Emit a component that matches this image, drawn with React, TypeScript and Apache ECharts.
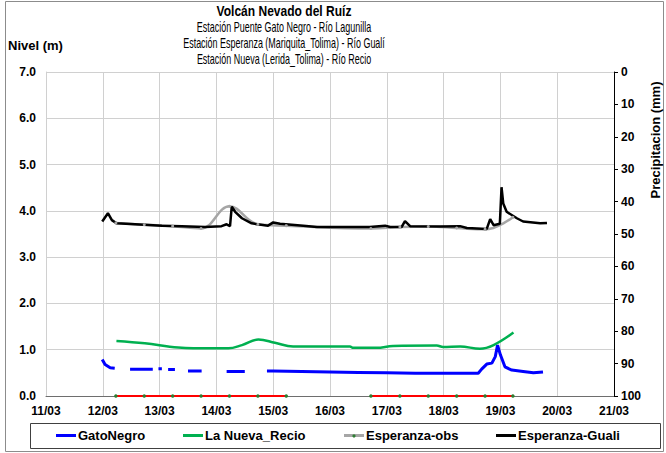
import React, { useEffect, useRef } from "react";
import * as echarts from "echarts";

// ---- Data (days of March; levels in m) ----
const xTicks = [11, 12, 13, 14, 15, 16, 17, 18, 19, 20, 21];

const gatoDays = [11.99, 12.04, 12.13, 12.21, 12.3, 12.48, 12.88, 12.93, 12.98, 13.04, 13.1, 13.15, 13.27, 13.4, 13.5, 13.74, 13.9, 14.18, 14.5, 14.7, 14.89, 15.0, 15.5, 16.0, 16.5, 17.0, 17.5, 18.0, 18.61, 18.67, 18.76, 18.85, 18.91, 18.95, 19.0, 19.08, 19.2, 19.4, 19.58, 19.75];
const gatoLevels = [0.79, 0.68, 0.61, 0.6, null, 0.58, 0.58, null, 0.59, 0.59, null, 0.57, 0.57, null, 0.54, 0.54, null, 0.53, 0.53, null, 0.54, 0.54, 0.53, 0.52, 0.51, 0.5, 0.49, 0.49, 0.49, 0.58, 0.69, 0.71, 0.85, 1.1, 0.89, 0.63, 0.56, 0.53, 0.5, 0.52];

const recioDays = [12.24, 12.74, 13.33, 13.92, 14.21, 14.45, 14.74, 15.03, 15.35, 16.35, 16.41, 16.82, 17.11, 17.88, 17.99, 18.29, 18.64, 18.88, 19.23];
const recioLevels = [1.19, 1.14, 1.05, 1.03, 1.03, 1.1, 1.22, 1.15, 1.07, 1.07, 1.04, 1.04, 1.08, 1.09, 1.06, 1.07, 1.02, 1.1, 1.37];

const obsDays = [12.23, 12.73, 13.23, 13.73, 14.23, 14.73, 15.23, 16.72, 17.23, 17.73, 18.23, 18.73, 19.22];
const obsLevels = [3.74, 3.7, 3.67, 3.62, 4.1, 3.71, 3.68, 3.62, 3.65, 3.66, 3.63, 3.6, 3.86];

const gualiDays = [11.99, 12.09, 12.16, 12.24, 12.57, 13.04, 13.39, 13.8, 14.09, 14.18, 14.24, 14.27, 14.33, 14.45, 14.62, 14.91, 15.0, 15.12, 15.53, 15.77, 16.7, 16.97, 17.06, 17.26, 17.32, 17.41, 17.94, 18.29, 18.41, 18.76, 18.82, 18.88, 18.99, 19.02, 19.05, 19.11, 19.29, 19.4, 19.7, 19.82];
const gualiLevels = [3.77, 3.95, 3.8, 3.73, 3.71, 3.68, 3.67, 3.65, 3.67, 3.71, 3.67, 4.09, 3.98, 3.84, 3.73, 3.68, 3.75, 3.72, 3.68, 3.65, 3.65, 3.68, 3.65, 3.65, 3.78, 3.67, 3.66, 3.67, 3.63, 3.61, 3.82, 3.69, 3.72, 4.51, 4.16, 3.98, 3.84, 3.77, 3.73, 3.74];

const precipDays = [12.23, 12.73, 13.23, 13.73, 14.23, 14.73, 15.23, 16.0, 16.72, 17.23, 17.73, 18.23, 18.73, 19.22];
const precipValues = [0, 0, 0, 0, 0, 0, 0, null, 0, 0, 0, 0, 0, 0];

const titleLines = [
  "Volcán Nevado del Ruíz",
  "Estación Puente Gato Negro - Río Lagunilla",
  "Estación Esperanza (Mariquita_Tolima) - Río Gualí",
  "Estación Nueva (Lerida_Tolima) - Río Recio",
];
const seriesNames = ["GatoNegro", "La Nueva_Recio", "Esperanza-obs", "Esperanza-Guali"];

const toPairs = (xs: number[], ys: (number | null)[]) =>
  xs.map((x, i) => [x, ys[i] === null ? "-" : ys[i]]);

const FONT = "'Liberation Sans', Arial, sans-serif";

export default function App() {
  const ref = useRef<HTMLDivElement>(null);
  useEffect(() => {
    if (!ref.current) return;
    const chart = echarts.init(ref.current, undefined, { renderer: "svg" });
    const legendLefts = [56, 183, 344, 496];
    const option: any = {
      animation: false,
      backgroundColor: "#ffffff",
      grid: { left: 46, right: 52, top: 72, bottom: 57, containLabel: false },
      graphic: [
        { type: "rect", shape: { x: 5.5, y: 1.5, width: 658, height: 450 }, style: { fill: "none", stroke: "#8c8c8c", lineWidth: 1 }, silent: true },
        { type: "rect", shape: { x: 30.5, y: 423.5, width: 630, height: 25 }, style: { fill: "none", stroke: "#404040", lineWidth: 1 }, silent: true },
        ...titleLines.map((t, i) => ({
          type: "text",
          x: 284,
          y: 11 + i * 16,
          scaleX: i === 0 ? 0.86 : 0.64,
          style: { text: t, fill: "#000", font: `${i === 0 ? "bold " : ""}14px ${FONT}`, textAlign: "center", textVerticalAlign: "middle" },
        })),
        { type: "text", x: 8, y: 45, style: { text: "Nivel (m)", fill: "#000", font: `bold 13px ${FONT}`, textAlign: "left", textVerticalAlign: "middle" } },
        { type: "text", x: 655, y: 140, rotation: Math.PI / 2, style: { text: "Precipitacion (mm)", fill: "#000", font: `bold 13px ${FONT}`, textAlign: "center", textVerticalAlign: "middle" } },
        { type: "circle", shape: { cx: legendLefts[2] + 10, cy: 436, r: 1.6 }, style: { fill: "#2e7d32" }, z: 100, silent: true },
      ],
      legend: seriesNames.map((n, i) => ({
        data: [{ name: n, icon: "rect" }],
        left: legendLefts[i],
        top: 429,
        itemWidth: 20,
        itemHeight: 3,
        itemGap: 0,
        padding: 0,
        textStyle: { fontFamily: FONT, fontWeight: "bold", fontSize: 13, color: "#000", padding: [0, 0, 0, -3] },
      })),
      xAxis: {
        type: "value",
        min: 11,
        max: 21,
        interval: 1,
        axisLine: { show: true, lineStyle: { color: "#6e6e6e", width: 1 } },
        axisTick: { show: false },
        splitLine: { show: true, lineStyle: { color: "#d0d0d0", width: 1 } },
        axisLabel: {
          margin: 9,
          fontFamily: FONT,
          fontWeight: "bold",
          fontSize: 12,
          color: "#000",
          formatter: (v: number) => (xTicks.includes(Math.round(v)) ? `${String(Math.round(v)).padStart(2, "0")}/03` : ""),
        },
      },
      yAxis: [
        {
          type: "value",
          min: 0,
          max: 7,
          interval: 1,
          axisLine: { show: true, lineStyle: { color: "#d0d0d0" } },
          axisTick: { show: false },
          splitLine: { show: true, lineStyle: { color: "#d0d0d0", width: 1 } },
          axisLabel: { margin: 10, fontFamily: FONT, fontWeight: "bold", fontSize: 12, color: "#000", formatter: (v: number) => v.toFixed(1) },
        },
        {
          type: "value",
          position: "right",
          inverse: true,
          min: 0,
          max: 100,
          interval: 10,
          axisLine: { show: true, lineStyle: { color: "#000", width: 1 } },
          axisTick: { show: true, length: 4, lineStyle: { color: "#000" } },
          splitLine: { show: false },
          axisLabel: { margin: 7, fontFamily: FONT, fontWeight: "bold", fontSize: 12, color: "#000" },
        },
      ],
      series: [
        {
          name: "Precipitación",
          type: "line",
          data: toPairs(precipDays, precipValues),
          symbol: "circle",
          symbolSize: 3.5,
          itemStyle: { color: "#2e7d32" },
          lineStyle: { color: "#ff0000", width: 2 },
          z: 1,
        },
        {
          name: seriesNames[0],
          type: "line",
          data: toPairs(gatoDays, gatoLevels),
          symbol: "none",
          itemStyle: { color: "#0000ff" },
          lineStyle: { color: "#0000ff", width: 3 },
        },
        {
          name: seriesNames[1],
          type: "line",
          data: toPairs(recioDays, recioLevels),
          symbol: "none",
          smooth: 0.4,
          itemStyle: { color: "#00b050" },
          lineStyle: { color: "#00b050", width: 2.5 },
        },
        {
          name: seriesNames[2],
          type: "line",
          data: toPairs(obsDays, obsLevels),
          symbol: "circle",
          symbolSize: 3,
          smooth: 0.4,
          itemStyle: { color: "#a6a6a6" },
          lineStyle: { color: "#a6a6a6", width: 2.5 },
        },
        {
          name: seriesNames[3],
          type: "line",
          data: toPairs(gualiDays, gualiLevels),
          symbol: "none",
          itemStyle: { color: "#000000" },
          lineStyle: { color: "#000000", width: 2.5 },
        },
      ],
    };
    chart.setOption(option);
    return () => chart.dispose();
  }, []);
  return <div ref={ref} style={{ position: "absolute", left: 0, top: 0, width: 666, height: 453 }} />;
}
